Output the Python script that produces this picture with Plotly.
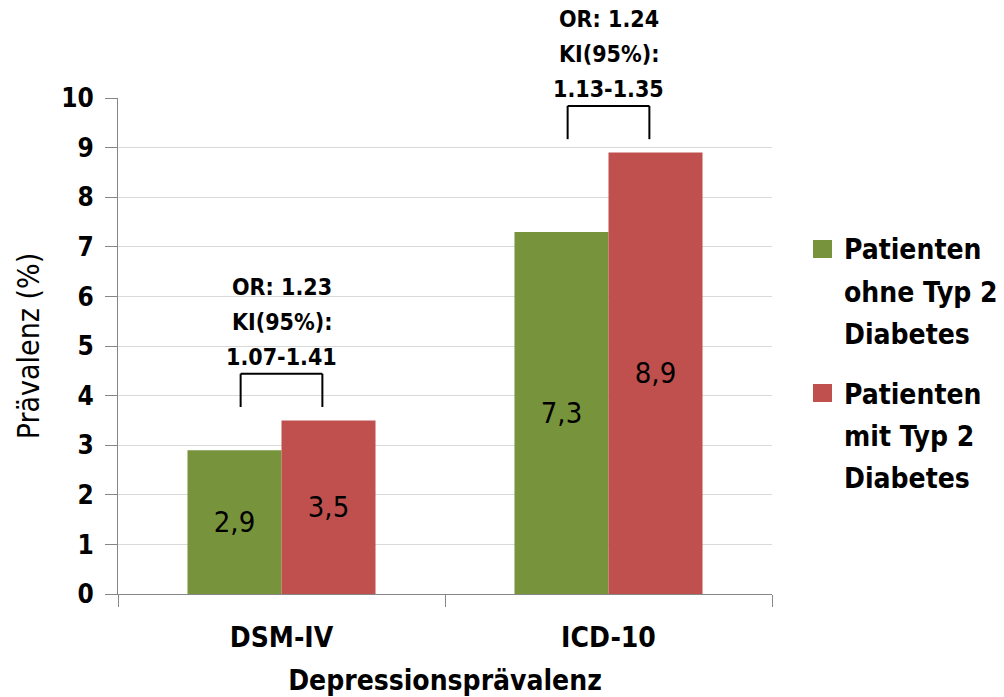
import plotly.graph_objects as go

categories = ["DSM-IV", "ICD-10"]
ohne_diabetes = [2.9, 7.3]
mit_diabetes = [3.5, 8.9]
legend_lines = [["Patienten", "ohne Typ 2", "Diabetes"], ["Patienten", "mit Typ 2", "Diabetes"]]
odds_ratios = ["1.23", "1.24"]
ci_labels = ["1.07-1.41", "1.13-1.35"]
y_ticks = [0, 1, 2, 3, 4, 5, 6, 7, 8, 9, 10]

GREEN = "#77933C"
RED = "#C0504D"
COLORS = [GREEN, RED]
FONT = "DejaVu Sans Condensed, DejaVu Sans"

# plot area in pixels (body margin is removed so the figure fills the window)
PL, PT, PW, PH = 118, 98, 654, 496
W, H = 1004, 697

fig = go.Figure()
for i, vals in enumerate([ohne_diabetes, mit_diabetes]):
    fig.add_trace(go.Bar(
        x=categories, y=vals, name=" ".join(legend_lines[i]), showlegend=False,
        marker=dict(color=COLORS[i], line=dict(width=0)),
        texttemplate="%{y:.1f}", textposition="inside", insidetextanchor="middle",
        textfont=dict(family=FONT, size=29, color="black"), textangle=0,
    ))

shapes = []
annotations = []
half = 0.125
for i, cat in enumerate(categories):
    bottom = max(ohne_diabetes[i], mit_diabetes[i]) + 0.27
    top = bottom + 0.67
    line = dict(color="black", width=2)
    shapes.append(dict(type="line", xref="x", yref="y", x0=i - half, x1=i - half, y0=bottom, y1=top, line=line))
    shapes.append(dict(type="line", xref="x", yref="y", x0=i + half, x1=i + half, y0=bottom, y1=top, line=line))
    shapes.append(dict(type="line", xref="x", yref="y", x0=i - half, x1=i + half, y0=top, y1=top, line=line))
    for txt, shift in [(ci_labels[i], 17), ("KI(95%):", 52), ("OR: " + odds_ratios[i], 87)]:
        annotations.append(dict(x=i, y=top, xref="x", yref="y", text="<b>" + txt + "</b>", showarrow=False,
                                yanchor="middle", yshift=shift, font=dict(family=FONT, size=23, color="black")))

# legend drawn as squares + text lines (positions in page pixels)
def px_to_paper_x(px):
    return (px - PL) / PW

def py_to_paper_y(py):
    return (PT + PH - py) / PH

legend_first_line = [249, 393]
line_step = 42
for i, lines in enumerate(legend_lines):
    y0 = legend_first_line[i]
    shapes.append(dict(type="rect", xref="paper", yref="paper",
                       x0=px_to_paper_x(813), x1=px_to_paper_x(832),
                       y0=py_to_paper_y(y0 + 9), y1=py_to_paper_y(y0 - 9),
                       fillcolor=COLORS[i], line=dict(width=0)))
    for k, txt in enumerate(lines):
        annotations.append(dict(x=px_to_paper_x(842), y=py_to_paper_y(y0 + k * line_step + 1),
                                xref="paper", yref="paper", xanchor="left", yanchor="middle",
                                text="<b>" + txt + "</b>", showarrow=False,
                                font=dict(family=FONT, size=28, color="black")))

fig.update_layout(
    width=W, height=H,
    margin=dict(l=PL, r=W - PL - PW, t=PT, b=H - PT - PH, autoexpand=False),
    paper_bgcolor="white", plot_bgcolor="white",
    separators=",.",
    barmode="group", bargap=0.425, bargroupgap=0,
    font=dict(family=FONT, color="black"),
    shapes=shapes, annotations=annotations,
    uniformtext=dict(minsize=10, mode="show"),
    showlegend=False,
    xaxis=dict(
        type="category", showline=True, linecolor="#868686", linewidth=1,
        ticks="outside", tickson="boundaries", ticklen=12, tickcolor="#868686",
        tickfont=dict(family=FONT, size=28, weight="bold"), ticklabelstandoff=18,
        title=dict(text="<b>Depressionsprävalenz</b>", font=dict(family=FONT, size=28), standoff=18),
        automargin=False,
    ),
    yaxis=dict(
        range=[0, 10], tickvals=y_ticks, showline=True, linecolor="#868686", linewidth=1,
        ticks="outside", ticklen=12, tickcolor="#868686",
        showgrid=True, gridcolor="#D9D9D9", gridwidth=1, zeroline=False,
        tickfont=dict(family=FONT, size=26, weight="bold"), ticklabelstandoff=6,
        title=dict(text="Prävalenz (%)", font=dict(family=FONT, size=30), standoff=12),
        automargin=False,
    ),
)

fig.write_html("out.html", config={"displayModeBar": False},
               post_script="document.body.style.margin='0';document.body.style.overflow='hidden';")
